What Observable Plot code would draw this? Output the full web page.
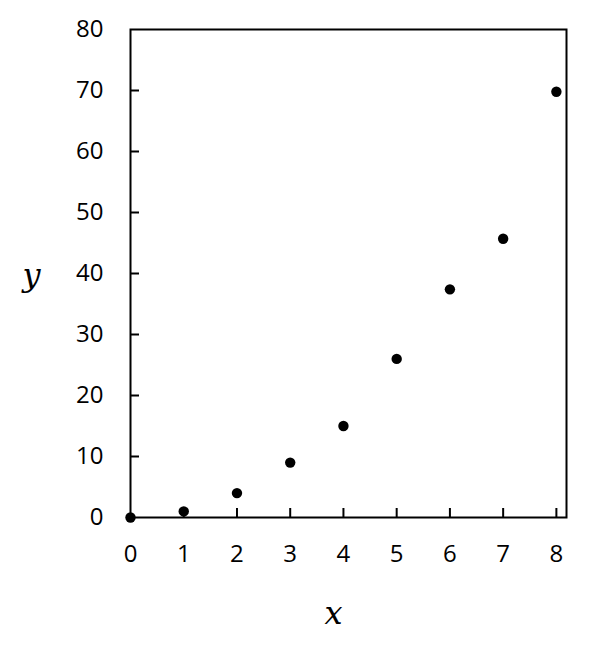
<!DOCTYPE html>
<html>
<head>
<meta charset="utf-8">
<script src="https://cdn.jsdelivr.net/npm/d3@7"></script>
<script src="https://cdn.jsdelivr.net/npm/@observablehq/plot@0.6"></script>
<style>
  html, body { margin: 0; padding: 0; background: #fff; }
</style>
</head>
<body>
<div id="chart"></div>
<script>
const xValues = [0, 1, 2, 3, 4, 5, 6, 7, 8];
const yValues = [0, 1, 4, 9, 15, 26, 37.4, 45.7, 69.8];
const xTicks = [0, 1, 2, 3, 4, 5, 6, 7, 8];
const yTicks = [0, 10, 20, 30, 40, 50, 60, 70, 80];
const xLabel = "x";
const yLabel = "y";

const data = xValues.map((x, i) => ({x, y: yValues[i]}));

const chart = Plot.plot({
  width: 608,
  height: 645,
  marginLeft: 130,
  marginTop: 29,
  marginRight: 42,
  marginBottom: 128,
  style: {fontFamily: "'Open Sans', sans-serif", fontSize: "24px", color: "#000", background: "#fff"},
  x: {domain: [0, 8.19]},
  y: {domain: [0, 80]},
  marks: [
    Plot.frame({stroke: "#000", strokeWidth: 2}),
    Plot.axisY(yTicks, {tickSize: 0, tickPadding: 27, label: null, fontSize: 24}),
    Plot.axisY(yTicks.slice(1, -1), {tickSize: -9, text: null, label: null, strokeWidth: 2}),
    Plot.axisX(xTicks, {tickSize: 0, tickPadding: 27, label: null, fontSize: 24}),
    Plot.axisX(xTicks.slice(1), {tickSize: -9, text: null, label: null, strokeWidth: 2}),
    Plot.dot(data, {x: "x", y: "y", r: 5.2, fill: "#000", stroke: null}),
    Plot.text([yLabel], {frameAnchor: "left", dx: -108, dy: 2, fontSize: 32, fontStyle: "italic", fontFamily: "'DejaVu Serif', serif"}),
    Plot.text([xLabel], {frameAnchor: "bottom", dx: -15, dy: 106, fontSize: 32, fontStyle: "italic", fontFamily: "'DejaVu Serif', serif"})
  ]
});
document.getElementById("chart").appendChild(chart);
</script>
</body>
</html>
